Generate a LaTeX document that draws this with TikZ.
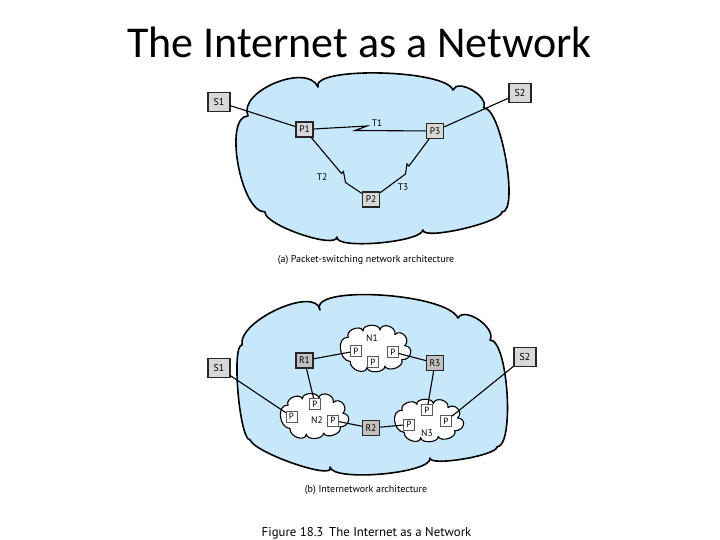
\documentclass[tikz,border=0pt]{standalone}
\usepackage{fontspec}
\newfontfamily\titlefont{Carlito}
\newfontfamily\figfont{PT Sans}
\definecolor{cloudblue}{RGB}{198,232,250}
\definecolor{hostgray}{RGB}{216,216,216}
\definecolor{routergray}{RGB}{192,192,192}
\begin{document}
\begin{tikzpicture}[x=1pt,y=-1pt,
  cloudline/.style={draw=black, line width=1.6pt, fill=cloudblue, line join=round},
  minicloud/.style={draw=black, line width=1.1pt, fill=white, line join=round},
  hostbox/.style={draw=black!85, line width=1.3pt, fill=hostgray, minimum width=22pt,
    minimum height=19pt, inner sep=0pt, font=\figfont\fontsize{10}{10}\selectfont},
  swbox/.style={hostbox, minimum width=17pt, minimum height=15pt, font=\figfont\fontsize{9.5}{9.5}\selectfont},
  routerbox/.style={swbox, fill=routergray},
  pbox/.style={draw=black!65, line width=0.6pt, fill=white, minimum width=11pt,
    minimum height=11pt, inner sep=0pt, font=\figfont\fontsize{9}{9}\selectfont},
  link/.style={line width=1.1pt, draw=black, line join=miter},
  lbl/.style={font=\figfont\fontsize{9.5}{9.5}\selectfont, inner sep=0pt},
  capstyle/.style={font=\figfont\fontsize{10}{10}\selectfont, inner sep=0pt},
  figcapstyle/.style={font=\figfont\fontsize{12.8}{12.8}\selectfont, inner sep=0pt},
  titlestyle/.style={font=\titlefont\fontsize{44}{44}\selectfont, inner sep=0pt, anchor=base},
  minicl/.pic={
    \draw[minicloud] (-27,-12) .. controls (-30.3,-19.3) and (-15.3,-26.3) .. (-12,-19)
      .. controls (-12.7,-26.3) and (4.3,-27.3) .. (5,-20)
      .. controls (7,-28.7) and (22,-23.7) .. (20,-15)
      .. controls (26.7,-21.7) and (36.7,-9.7) .. (30,-3)
      .. controls (40,-2.3) and (37,12.7) .. (27,12)
      .. controls (30.3,19.3) and (13.3,26.3) .. (10,19)
      .. controls (10,26.3) and (-8,27.3) .. (-8,20)
      .. controls (-8.7,29.3) and (-25.7,23.3) .. (-25,14)
      .. controls (-37,12.7) and (-39,-13.3) .. (-27,-12) -- cycle;
  }]
\useasboundingbox (0,0) rectangle (720,540);
\fill[white] (0,0) rectangle (720,540);

% Title
\node[titlestyle] (title) at (359.5,58) {The Internet as a Network};

% ---------- (a) ----------
\draw[cloudline] (248,116) .. controls (237.3,91.3) and (307.3,62.3) .. (318,87)
 .. controls (310.7,66.3) and (445.7,69.3) .. (453,90)
 .. controls (457.7,78) and (488.7,96) .. (484,108)
 .. controls (501.3,108) and (519.3,212) .. (502,212)
 .. controls (501.3,222.7) and (422.3,240.7) .. (423,230)
 .. controls (420.3,242.7) and (334.3,249.7) .. (337,237)
 .. controls (335.7,249.7) and (263.7,224.7) .. (265,212)
 .. controls (240.3,212) and (223.3,116) .. (248,116) -- cycle;

\node[hostbox] (sA1) at (219,102) {S1};
\node[hostbox] (sA2) at (520,93) {S2};
\node[swbox] (p1) at (304.5,129.5) {P1};
\node[swbox] (p3) at (435,131) {P3};
\node[swbox] (p2) at (371,199.5) {P2};

\coordinate (t1a) at (367,126);
\coordinate (t1b) at (355,130.5);
\coordinate (t2a) at (341.5,173.5);
\coordinate (t2b) at (343.5,171.5);
\coordinate (t2c) at (345.5,182.5);
\coordinate (t3a) at (409,166);
\coordinate (t3b) at (407,164);
\coordinate (t3c) at (405.5,174);

\draw[link] (sA1) -- (p1);
\draw[link] (sA2) -- (p3);
\draw[link] (p1) -- (t1a) -- (t1b) -- (p3);
\draw[link] (p1) -- (t2a) -- (t2b) -- (t2c) -- (p2);
\draw[link] (p3) -- (t3a) -- (t3b) -- (t3c) -- (p2);

\node[lbl] (lt1) at (377,123) {T1};
\node[lbl] (lt2) at (322,177) {T2};
\node[lbl] (lt3) at (403,187) {T3};

\node[capstyle] (capa) at (366,260) {(a) Packet-switching network architecture};

% ---------- (b) ----------
\draw[cloudline] (242,345) .. controls (238,320.3) and (316,285.3) .. (320,310)
 .. controls (308,284.7) and (446,292.7) .. (458,318)
 .. controls (464.7,306) and (496.7,328) .. (490,340)
 .. controls (508,339.3) and (515,446.3) .. (497,447)
 .. controls (496.3,455.7) and (429.3,466.7) .. (430,458)
 .. controls (432.7,473.3) and (332.7,482.3) .. (330,467)
 .. controls (336.7,481) and (256.7,454) .. (250,440)
 .. controls (239.3,439.3) and (231.3,344.3) .. (242,345) -- cycle;

\pic[xscale=0.99,yscale=0.93] at (375,348.5) {minicl};
\pic[xscale=0.96,yscale=0.9] at (314,416) {minicl};
\pic[xscale=0.97,yscale=0.85] at (428.5,420.5) {minicl};

\node[lbl] (ln1) at (372,338) {N1};
\node[lbl] (ln2) at (317,420.5) {N2};
\node[lbl] (ln3) at (427,433) {N3};

\node[hostbox] (sB1) at (219,368) {S1};
\node[hostbox] (sB2) at (525,357) {S2};
\node[routerbox] (r1) at (304.5,360.5) {R1};
\node[routerbox] (r3) at (435,363) {R3};
\node[routerbox] (r2) at (371,428) {R2};

\node[pbox] (n1a) at (356,351) {P};
\node[pbox] (n1b) at (393,352) {P};
\node[pbox] (n1c) at (373,362) {P};
\node[pbox] (n2a) at (315,404) {P};
\node[pbox] (n2b) at (291.5,416.5) {P};
\node[pbox] (n2c) at (333,420.5) {P};
\node[pbox] (n3a) at (427,410) {P};
\node[pbox] (n3b) at (409,424.5) {P};
\node[pbox] (n3c) at (446,421) {P};

\draw[link] (sB1) -- (n2b);
\draw[link] (r1) -- (n1a);
\draw[link] (n1b) -- (r3);
\draw[link] (r1) -- (n2a);
\draw[link] (r3) -- (n3a);
\draw[link] (n2c) -- (r2);
\draw[link] (r2) -- (n3b);
\draw[link] (sB2) -- (n3c);

\node[capstyle] (capb) at (366,490) {(b) Internetwork architecture};

\node[figcapstyle] (figcap) at (366.5,533) {Figure 18.3\hspace{0.45em}The Internet as a Network};
\end{tikzpicture}
\end{document}
